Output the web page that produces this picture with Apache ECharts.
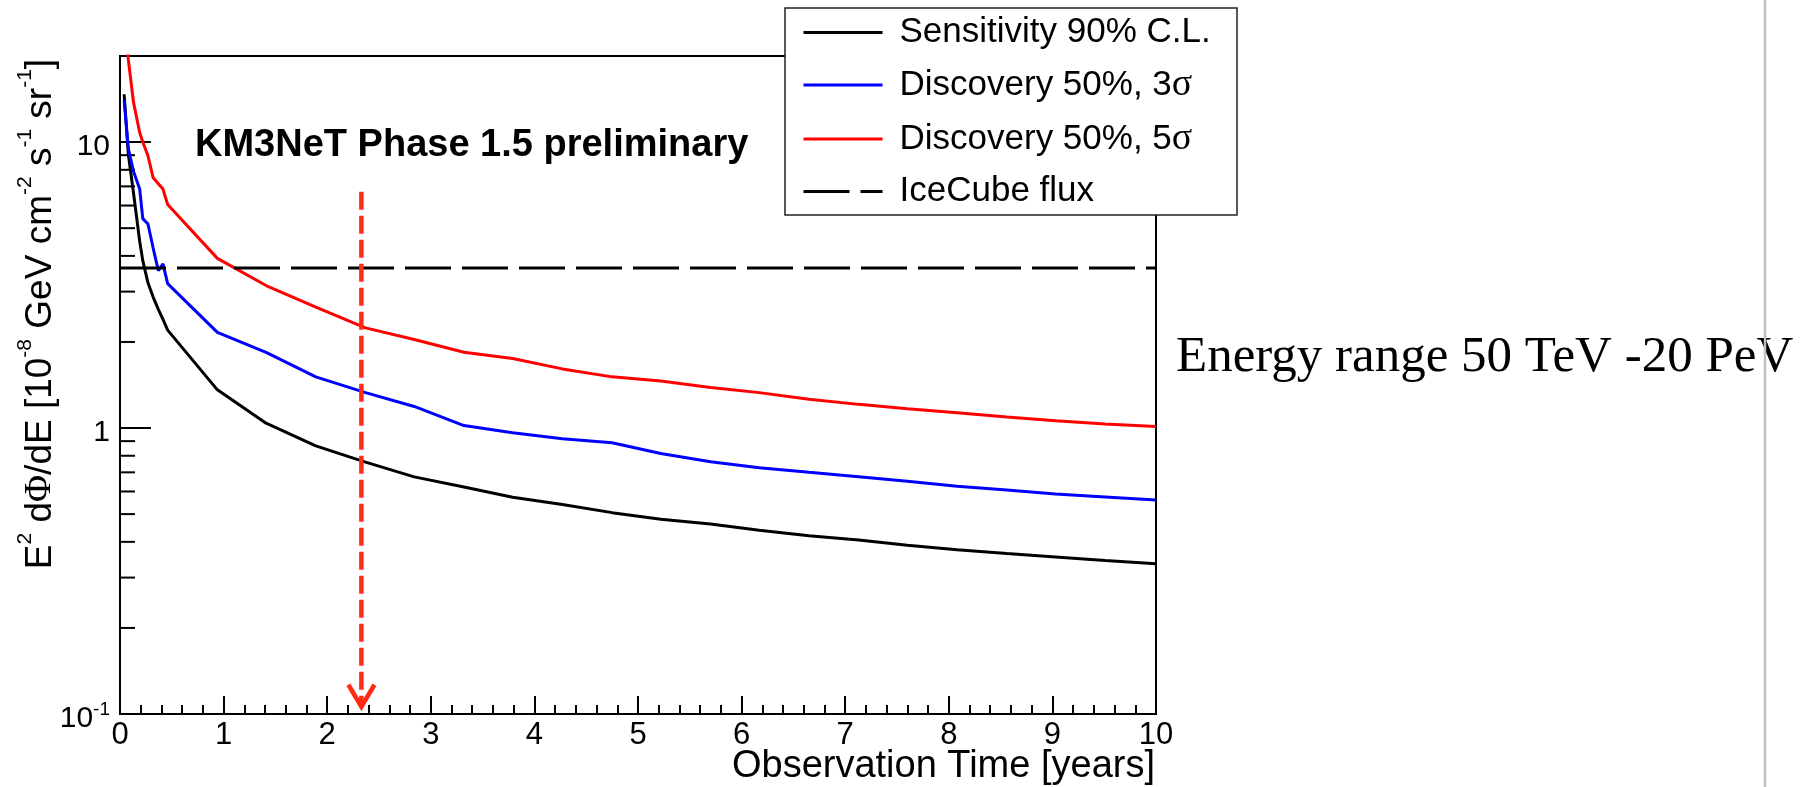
<!DOCTYPE html>
<html><head><meta charset="utf-8">
<script src="https://cdn.jsdelivr.net/npm/echarts@6/dist/echarts.min.js"></script>
<style>html,body{margin:0;padding:0;background:#fff;}#c{width:1813px;height:787px;}</style>
</head><body><div id="c"></div>
<script>
// ---- data ----
const years = [0.04, 0.08, 0.13, 0.19, 0.22, 0.27, 0.32, 0.37, 0.415, 0.46,
  0.94, 1.41, 1.89, 2.37, 2.84, 3.32, 3.79, 4.27, 4.75, 5.22, 5.70, 6.17, 6.65,
  7.13, 7.60, 8.08, 8.56, 9.03, 9.51, 10.0];
const sensitivity = [14.7, 9.1, 6.65, 4.5, 3.85, 3.22, 2.87, 2.6, 2.4, 2.2,
  1.36, 1.04, 0.866, 0.76, 0.675, 0.622, 0.573, 0.54, 0.506, 0.48, 0.462, 0.439, 0.42,
  0.406, 0.389, 0.375, 0.364, 0.354, 0.344, 0.335];
const discovery3 = [14.0, 9.5, 7.9, 6.85, 5.4, 5.17, 4.26, 3.55, 3.75, 3.2,
  2.16, 1.84, 1.51, 1.33, 1.19, 1.02, 0.962, 0.917, 0.888, 0.815, 0.762, 0.727, 0.70,
  0.675, 0.651, 0.626, 0.607, 0.588, 0.574, 0.56];
const discovery5 = [30, 19.5, 13.8, 10.8, 10.0, 8.96, 7.5, 7.15, 6.85, 6.05,
  3.92, 3.15, 2.65, 2.24, 2.04, 1.84, 1.75, 1.61, 1.51, 1.46, 1.385, 1.33, 1.26,
  1.21, 1.167, 1.13, 1.094, 1.061, 1.034, 1.012];
const icecubeFlux = 3.63;
const icecubeYears = [0, 10];
const seriesNames = ['Sensitivity 90% C.L.', 'Discovery 50%, 3σ', 'Discovery 50%, 5σ', 'IceCube flux'];
const yMinorTicks = [0.2, 0.3, 0.4, 0.5, 0.6, 0.7, 0.8, 0.9, 2, 3, 4, 5, 6, 7, 8, 9];
const arrowYear = 2.33;
const arrowTopValue = 6.7;
const arrowTipValue = 0.106;

// ---- chart ----
const chart = echarts.init(document.getElementById('c'), null, {renderer: 'canvas'});
const pairs = arr => years.map((x, i) => [x, arr[i]]);
const SANS = '"Liberation Sans", Arial, Helvetica, sans-serif';
const SERIF = '"Liberation Serif", "Times New Roman", serif';

function lineSeries(name, data, color, dash) {
  return {
    name, type: 'line', data, symbol: 'none', showSymbol: false, silent: true,
    clip: true, animation: false, color,
    lineStyle: {color, width: 3, type: dash || 'solid'},
    emphasis: {disabled: true}
  };
}

const option = {
  animation: false,
  backgroundColor: '#fff',
  grid: {left: 120, right: 657, top: 56, bottom: 73, show: true,
    borderColor: '#000', borderWidth: 2, backgroundColor: 'transparent'},
  xAxis: {
    type: 'value', min: 0, max: 10, interval: 1,
    axisLine: {show: true, lineStyle: {color: '#000', width: 2}},
    axisTick: {show: true, inside: true, length: 18, lineStyle: {color: '#000', width: 2}},
    minorTick: {show: true, splitNumber: 5, length: 9, lineStyle: {color: '#000', width: 2}},
    splitLine: {show: false}, minorSplitLine: {show: false},
    axisLabel: {fontFamily: SANS, fontSize: 31, color: '#000', margin: 6}
  },
  yAxis: {
    type: 'log', logBase: 10, min: 0.1, max: 20,
    axisLine: {show: true, lineStyle: {color: '#000', width: 2}},
    axisTick: {show: true, inside: true, length: 31, lineStyle: {color: '#000', width: 2}},
    minorTick: {show: false},
    splitLine: {show: false},
    axisLabel: {
      showMaxLabel: false, margin: 10, padding: [6, 0, 0, 0],
      formatter: v => Math.abs(v - 0.1) < 1e-9 ? '{b|10}{s|-1}' : '{b|' + Math.round(v) + '}',
      rich: {
        b: {fontFamily: SANS, fontSize: 30, color: '#000', lineHeight: 33, verticalAlign: 'bottom'},
        s: {fontFamily: SANS, fontSize: 19, color: '#000', lineHeight: 19, verticalAlign: 'top'}
      }
    }
  },
  legend: {
    orient: 'vertical', left: 802, top: 15, padding: 0,
    itemWidth: 79, itemHeight: 20, itemGap: 16, selectedMode: false, z: 5,
    data: seriesNames,
    lineStyle: {width: 3, opacity: 1},
    itemStyle: {opacity: 0},
    formatter: name => name.endsWith('σ') ? '{t|' + name.slice(0, -1) + '}{g|σ}' : '{t|' + name + '}',
    textStyle: {
      color: '#000', padding: [0, 0, 0, 12],
      rich: {
        t: {fontFamily: SANS, fontSize: 35, color: '#000', lineHeight: 36},
        g: {fontFamily: SERIF, fontSize: 38, color: '#000', lineHeight: 36}
      }
    }
  },
  graphic: [
    {type: 'rect', z: 3, shape: {x: 785, y: 8, width: 452, height: 207},
      style: {fill: '#fff', stroke: '#222', lineWidth: 1.5}},
    {type: 'text', z: 3, x: 195, y: 146,
      style: {text: 'KM3NeT Phase 1.5 preliminary', font: 'bold 38px ' + SANS, fill: '#000',
        align: 'left', textAlign: 'left', verticalAlign: 'middle', textVerticalAlign: 'middle'}},
    {type: 'text', z: 3, x: 1155, y: 767,
      style: {text: 'Observation Time [years]', font: '38px ' + SANS, fill: '#000',
        align: 'right', textAlign: 'right', verticalAlign: 'middle', textVerticalAlign: 'middle'}},
    {type: 'text', z: 3, x: 37, y: 314, rotation: Math.PI / 2,
      style: {
        text: '{m|E}{s|2}{m| d}{p|Φ}{m|/dE [10}{s|-8}{m| GeV cm}{s|-2}{m| s}{s|-1}{m| sr}{s|-1}{m|]}',
        fill: '#000', align: 'center', textAlign: 'center', verticalAlign: 'middle', textVerticalAlign: 'middle',
        rich: {
          m: {fontFamily: SANS, fontSize: 37, lineHeight: 44, verticalAlign: 'bottom', fill: '#000', color: '#000'},
          p: {fontFamily: SERIF, fontSize: 37, lineHeight: 44, verticalAlign: 'bottom', fill: '#000', color: '#000'},
          s: {fontFamily: SANS, fontSize: 21, lineHeight: 20, verticalAlign: 'top', fill: '#000', color: '#000'}
        }
      }},
    {type: 'text', z: 3, x: 1176, y: 358,
      style: {text: 'Energy range 50 TeV -20 PeV', font: '51px ' + SERIF, fill: '#000',
        align: 'left', textAlign: 'left', verticalAlign: 'middle', textVerticalAlign: 'middle'}},
    {type: 'line', z: 3, shape: {x1: 1765, y1: 0, x2: 1765, y2: 787},
      style: {stroke: '#c0c0c0', lineWidth: 2.5}}
  ],
  series: [
    lineSeries(seriesNames[0], pairs(sensitivity), '#000000'),
    lineSeries(seriesNames[1], pairs(discovery3), '#0000ff'),
    lineSeries(seriesNames[2], pairs(discovery5), '#ff0000'),
    lineSeries(seriesNames[3], icecubeYears.map(x => [x, icecubeFlux]), '#000000', [46, 11]),
    {
      name: 'yMinorTicks', type: 'custom', silent: true, animation: false,
      data: yMinorTicks.map(v => [0, v]), encode: {x: 0, y: 1},
      renderItem: (params, api) => {
        const p = api.coord([api.value(0), api.value(1)]);
        return {type: 'line', shape: {x1: p[0], y1: p[1], x2: p[0] + 15, y2: p[1]},
          style: {stroke: '#000', lineWidth: 2}};
      }
    },
    {
      name: 'arrow', type: 'custom', silent: true, animation: false, z: 4,
      data: [[arrowYear, arrowTopValue, arrowTipValue]], encode: {x: 0, y: [1, 2]},
      renderItem: (params, api) => {
        const top = api.coord([api.value(0), api.value(1)]);
        const tip = api.coord([api.value(0), api.value(2)]);
        const col = '#ff2b14';
        return {type: 'group', children: [
          {type: 'line', shape: {x1: top[0], y1: top[1], x2: tip[0], y2: tip[1] - 4},
            style: {stroke: col, lineWidth: 4.5, lineDash: [18, 6]}},
          {type: 'polyline', shape: {points: [[tip[0] - 13, tip[1] - 22], [tip[0], tip[1]], [tip[0] + 13, tip[1] - 22]]},
            style: {stroke: col, lineWidth: 4.5, fill: null}}
        ]};
      }
    }
  ]
};
chart.setOption(option);
</script>
</body></html>
